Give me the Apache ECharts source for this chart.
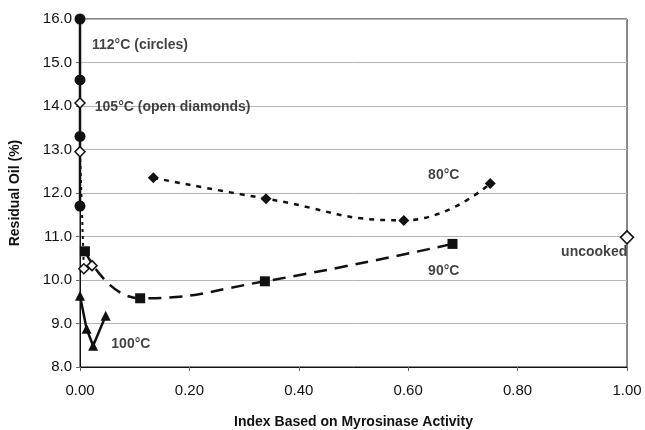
<!DOCTYPE html>
<html>
<head>
<meta charset="utf-8">
<script src="https://cdn.jsdelivr.net/npm/echarts@6/dist/echarts.min.js"></script>
<style>
  html, body { margin: 0; padding: 0; background: #fff; }
  #chart { width: 645px; height: 430px; }
</style>
</head>
<body>
<div id="chart"></div>
<script>
// --- data: [index, residual oil %] ---
const c112 = [[0, 16.0], [0, 14.6], [0, 13.3], [0, 11.7]];
const c105 = [[0, 14.07], [0, 12.95], [0.007, 10.26], [0.022, 10.33]];
const c100 = [[0, 9.64], [0.012, 8.88], [0.024, 8.49], [0.047, 9.18]];
const c90 = [[0.009, 10.66], [0.11, 9.58], [0.338, 9.97], [0.681, 10.83]];
const c80 = [[0.134, 12.35], [0.34, 11.87], [0.592, 11.37], [0.75, 12.22]];
const uncooked = [[1.0, 10.98]];

// text notes, placed in data units
const leftNotes = [
  { value: [0.022, 15.4], text: '112°C (circles)' },
  { value: [0.027, 13.98], text: '105°C (open diamonds)' }
];
const centerNotes = [
  { value: [0.665, 12.4], text: '80°C' },
  { value: [0.665, 10.2], text: '90°C' },
  { value: [0.94, 10.65], text: 'uncooked' },
  { value: [0.093, 8.52], text: '100°C' }
];

const FONT = 'Liberation Sans, Arial, sans-serif';
const INK = '#111';

function lineSeries(name, data, symbol, size, fill, type, width, smooth) {
  return {
    name: name,
    type: 'line',
    data: data,
    symbol: symbol,
    symbolSize: size,
    smooth: smooth,
    clip: false,
    z: 3,
    itemStyle: { color: fill, borderColor: INK, borderWidth: fill === '#fff' ? 1.5 : 0 },
    lineStyle: { color: INK, width: width, type: type }
  };
}

function noteSeries(notes, pos) {
  return {
    type: 'scatter',
    symbolSize: 0,
    silent: true,
    z: 5,
    data: notes.map(n => ({ value: n.value, name: n.text })),
    label: {
      show: true,
      position: pos,
      distance: 0,
      formatter: p => p.name,
      color: INK,
      fontFamily: FONT,
      fontWeight: 'bold',
      fontSize: 14
    }
  };
}

const chart = echarts.init(document.getElementById('chart'), null, { renderer: 'canvas' });

chart.setOption({
  animation: false,
  backgroundColor: '#fff',
  grid: {
    left: 80, right: 18, top: 19, bottom: 63,
    outerBoundsMode: 'none',
    show: true, borderColor: INK, borderWidth: 1
  },
  xAxis: {
    type: 'value',
    min: 0, max: 1, interval: 0.2,
    name: 'Index Based on Myrosinase Activity',
    nameLocation: 'middle',
    nameGap: 48,
    nameTextStyle: { color: INK, fontFamily: FONT, fontWeight: 'bold', fontSize: 14 },
    axisLine: { lineStyle: { color: INK, width: 1 } },
    axisTick: { show: true, length: 4, lineStyle: { color: '#666' } },
    axisLabel: { color: INK, fontFamily: FONT, fontSize: 15, margin: 16, formatter: v => v.toFixed(2) },
    splitLine: { show: false }
  },
  yAxis: {
    type: 'value',
    min: 8, max: 16, interval: 1,
    name: 'Residual Oil (%)',
    nameLocation: 'middle',
    nameGap: 58,
    nameTextStyle: { color: INK, fontFamily: FONT, fontWeight: 'bold', fontSize: 14 },
    axisLine: { show: true, lineStyle: { color: INK, width: 1 } },
    axisTick: { show: true, length: 4, lineStyle: { color: '#666' } },
    axisLabel: { color: INK, fontFamily: FONT, fontSize: 15, margin: 8, formatter: v => v.toFixed(1) },
    splitLine: { show: true, lineStyle: { color: '#b5b5b5', width: 1 } }
  },
  series: [
    lineSeries('112', c112, 'circle', 11, INK, 'solid', 2.5, false),
    lineSeries('105', c105, 'diamond', 10, '#fff', [3, 4], 2, false),
    lineSeries('100', c100, 'triangle', 10, INK, 'solid', 2.5, false),
    lineSeries('90', c90, 'rect', 10, INK, [13, 8], 2.5, 0.5),
    lineSeries('80', c80, 'diamond', 11, INK, [5, 6], 2.5, 0.5),
    lineSeries('uncooked', uncooked, 'diamond', 13, '#fff', 'solid', 2, false),
    noteSeries(leftNotes, 'right'),
    noteSeries(centerNotes, 'inside')
  ]
});
</script>
</body>
</html>
